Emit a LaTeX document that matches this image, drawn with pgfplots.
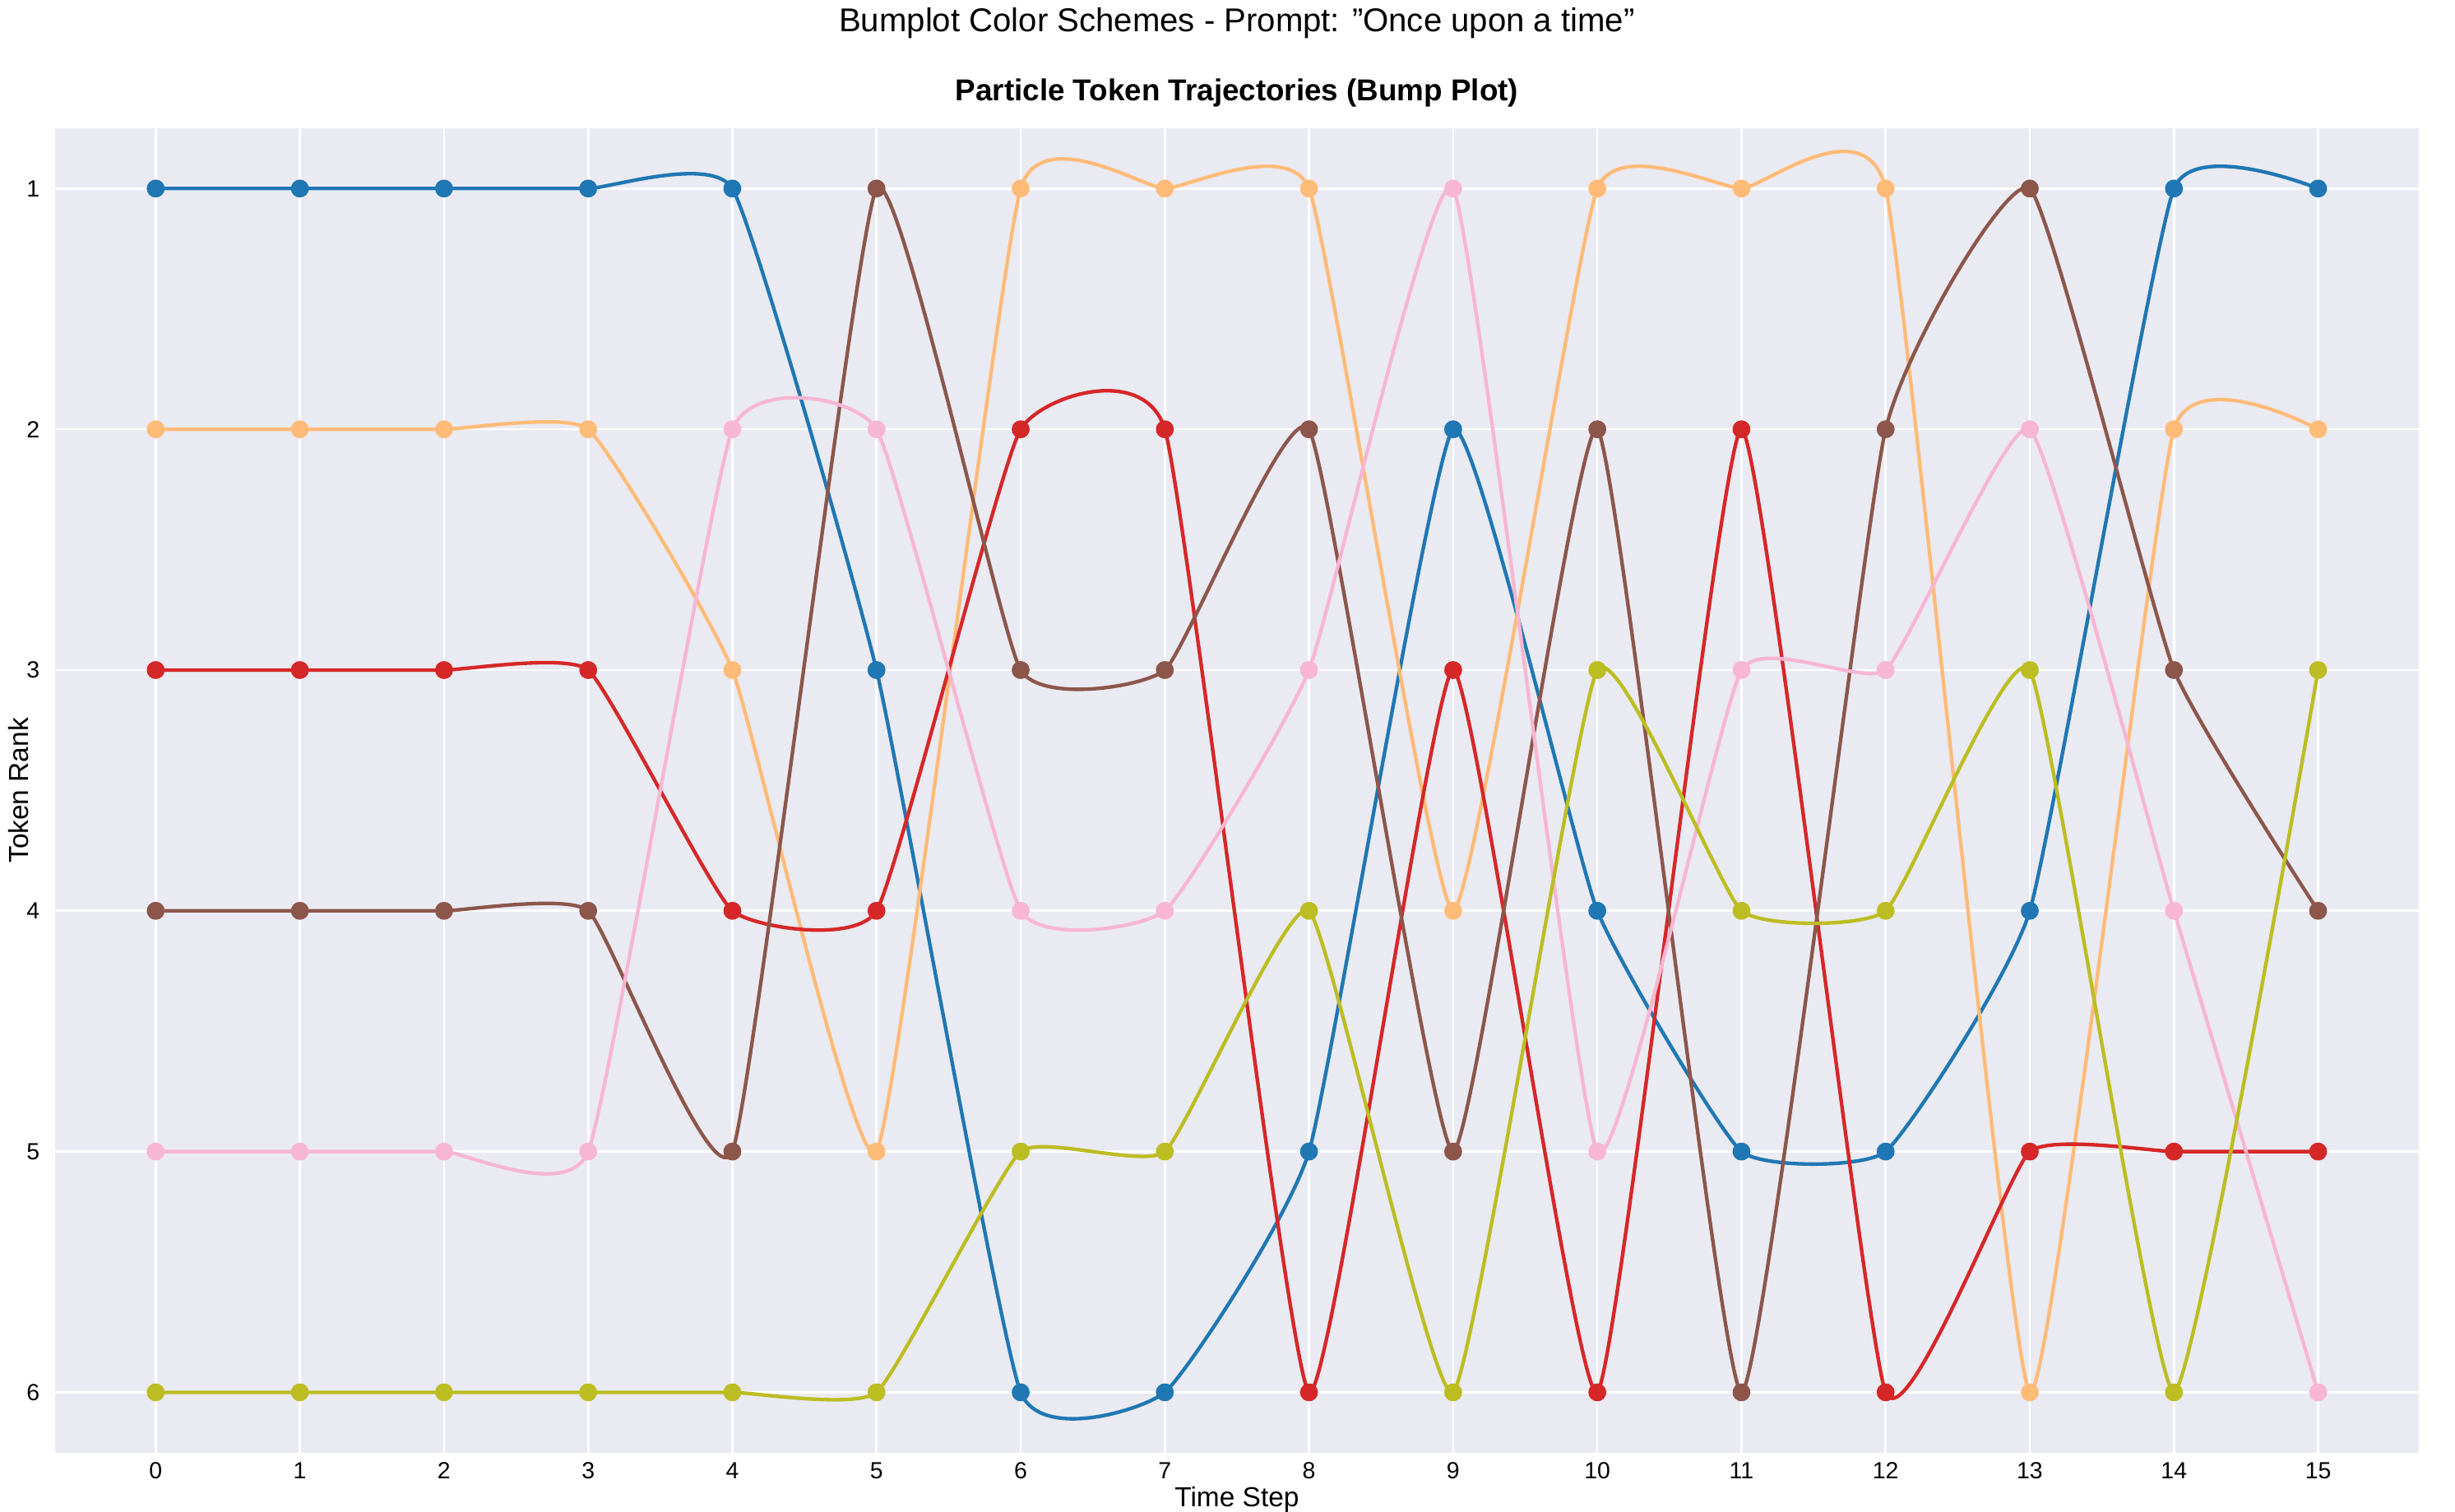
\documentclass[border=0pt]{standalone}
\usepackage{pgfplots}
\pgfplotsset{compat=1.18}
\usepackage{fontspec}
\setmainfont{Liberation Sans}
\definecolor{bg}{HTML}{EAEAF2}
\definecolor{c1}{HTML}{1F77B4}
\definecolor{c2}{HTML}{FFBB78}
\definecolor{c3}{HTML}{D62728}
\definecolor{c4}{HTML}{8C564B}
\definecolor{c5}{HTML}{F7B6D2}
\definecolor{c6}{HTML}{BCBD22}
\begin{document}
\begin{tikzpicture}
\path[use as bounding box] (-0.7,-0.76) rectangle (30.66,18.56);
\node at (15.1,18.26) {\fontsize{12}{14}\selectfont Bumplot Color Schemes - Prompt: \symbol{34}Once upon a time\symbol{34}};
\begin{axis}[at={(0,0)},anchor=south west,
  width=30.2cm,height=16.92cm,scale only axis,
  axis background/.style={fill=bg},
  axis line style={draw=none},
  xmin=-0.7,xmax=15.7,ymin=0.75,ymax=6.25,y dir=reverse,
  xtick={0,...,15},ytick={1,...,6},
  grid=major,major grid style={white,line width=0.8pt},
  tick style={draw=none},
  ticklabel style={font=\fontsize{8.5}{10}\selectfont},
  yticklabel style={xshift=-2pt},
  /pgf/number format/assume math mode=true,
  xlabel={Time Step},ylabel={Token Rank},
  label style={font=\fontsize{10}{12}\selectfont},
  xlabel style={yshift=4pt},
  ylabel style={at={(axis description cs:-0.0152,0.5)},anchor=center},
  title={\textbf{Particle Token Trajectories (Bump Plot)}},
  title style={font=\fontsize{11}{13}\selectfont,at={(axis description cs:0.5,1.014)},anchor=center},
  every axis plot/.append style={line width=1.3pt,smooth,tension=0.25,mark=*,mark size=2.6pt},
]
\addplot[c1,mark options={fill=c1}] coordinates {(0,1)(1,1)(2,1)(3,1)(4,1)(5,3)(6,6)(7,6)(8,5)(9,2)(10,4)(11,5)(12,5)(13,4)(14,1)(15,1)};
\addplot[c2,mark options={fill=c2}] coordinates {(0,2)(1,2)(2,2)(3,2)(4,3)(5,5)(6,1)(7,1)(8,1)(9,4)(10,1)(11,1)(12,1)(13,6)(14,2)(15,2)};
\addplot[c3,mark options={fill=c3}] coordinates {(0,3)(1,3)(2,3)(3,3)(4,4)(5,4)(6,2)(7,2)(8,6)(9,3)(10,6)(11,2)(12,6)(13,5)(14,5)(15,5)};
\addplot[c4,mark options={fill=c4}] coordinates {(0,4)(1,4)(2,4)(3,4)(4,5)(5,1)(6,3)(7,3)(8,2)(9,5)(10,2)(11,6)(12,2)(13,1)(14,3)(15,4)};
\addplot[c5,mark options={fill=c5}] coordinates {(0,5)(1,5)(2,5)(3,5)(4,2)(5,2)(6,4)(7,4)(8,3)(9,1)(10,5)(11,3)(12,3)(13,2)(14,4)(15,6)};
\addplot[c6,mark options={fill=c6}] coordinates {(0,6)(1,6)(2,6)(3,6)(4,6)(5,6)(6,5)(7,5)(8,4)(9,6)(10,3)(11,4)(12,4)(13,3)(14,6)(15,3)};
\end{axis}
\end{tikzpicture}
\end{document}
